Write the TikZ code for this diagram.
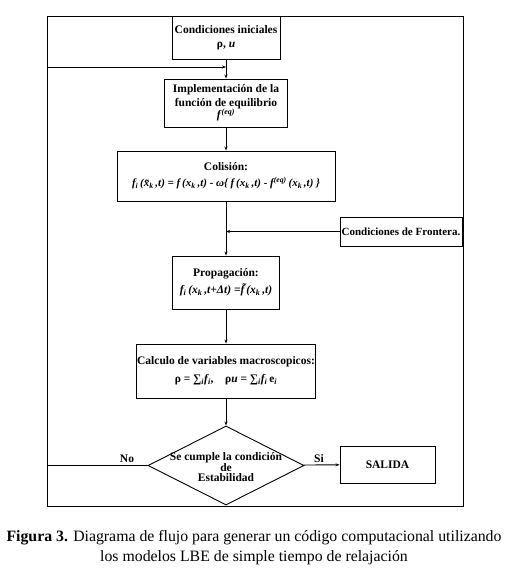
\documentclass[tikz,border=0pt]{standalone}
\usepackage{fontspec}
\setmainfont{Liberation Serif}
\usetikzlibrary{shapes.geometric,arrows.meta}
\begin{document}
\begin{tikzpicture}[x=1pt,y=-1pt,
  every node/.style={font=\fontsize{11.5}{14}\selectfont\bfseries},
  box/.style={draw,line width=0.9pt,align=center,inner sep=1pt},
  conn/.style={line width=0.9pt},
  arr/.style={conn,-{Stealth[length=4pt,width=3pt]}},
  lbl/.style={font=\fontsize{11.5}{14}\selectfont\bfseries}]
\useasboundingbox (0,0) rectangle (508,577);
% frame corners
\coordinate (TL) at (47.7,16);
\coordinate (TR) at (463.3,16);
\coordinate (BR) at (463.3,506);
\coordinate (BL) at (47.7,506);
\draw[conn] (TL) -- (TR) -- (BR) -- (BL) -- cycle;
% nodes
\node[box,fill=white,minimum width=108pt,minimum height=43pt] (ci) at (226,37.7)
  {Condiciones iniciales\\ρ, \textit{u}};
\node[box,minimum width=123pt,minimum height=48pt] (impl) at (226,103)
  {Implementación de la\\función de equilibrio\\[-2pt] \textit{f}\textsuperscript{\textit{(eq)}}};
\node[box,minimum width=218pt,minimum height=50pt] (col) at (226,176)
  {Colisión:\\[2pt] \fontsize{11}{14}\selectfont\textit{f\textsubscript{i}\,(x̃\textsubscript{k}\,,t) = f\,(x\textsubscript{k}\,,t) - ω\{ f\,(x\textsubscript{k}\,,t) - f\textsuperscript{(eq)}\,(x\textsubscript{k}\,,t) \}}};
\node[box,minimum width=122pt,minimum height=29pt] (front) at (401,231.5)
  {\fontsize{11}{14}\selectfont Condiciones de Frontera.};
\coordinate (jf) at (226,231.5);
\node[box,minimum width=107pt,minimum height=53pt] (prop) at (226,282.5)
  {Propagación:\\[3pt] \textit{f\textsubscript{i}\,(x\textsubscript{k}\,,t+Δt) =f̃\,(x\textsubscript{k}\,,t)}};
\node[box,minimum width=178pt,minimum height=54pt] (calc) at (226,371)
  {Calculo de variables macroscopicos:\\[4pt] ρ = ∑\textsubscript{\textit{i}}\textit{f\textsubscript{i}},\quad ρ\textit{u} = ∑\textsubscript{\textit{i}}\textit{f\textsubscript{i}}\,e\textsubscript{\textit{i}}};
\node[draw,diamond,line width=0.9pt,minimum width=156pt,minimum height=79pt,inner sep=0pt,aspect=2] (dia) at (226,465.5) {};
\node[align=center,font=\fontsize{11.5}{10}\selectfont\bfseries] (diat) at (226,467) {Se cumple la condición\\de\\Estabilidad};
\node[box,minimum width=95pt,minimum height=37pt] (sal) at (387.5,464.5) {SALIDA};
\coordinate (lp1) at (47.7,465.5);
\coordinate (lp2) at (47.7,67);
\coordinate (lp3) at (226,67);
% connectors
\draw[arr] (ci) -- (impl);
\draw[arr] (impl) -- (col);
\draw[arr] (col) -- (prop);
\draw[arr] (front) -- (jf);
\draw[arr] (prop) -- (calc);
\draw[arr] (calc) -- (dia);
\draw[arr] (dia) -- (sal);
\draw[arr] (dia.west) -- (lp1) -- (lp2) -- (lp3);
\node[lbl] (no) at (127,459) {No};
\node[lbl] (si) at (319,459) {Si};
% caption
\node[font=\fontsize{15.8}{20}\selectfont\mdseries,align=center] (cap) at (254,548)
  {\textbf{Figura 3.} Diagrama de flujo para generar un código computacional utilizando\\los modelos LBE de simple tiempo de relajación};
\end{tikzpicture}
\end{document}
